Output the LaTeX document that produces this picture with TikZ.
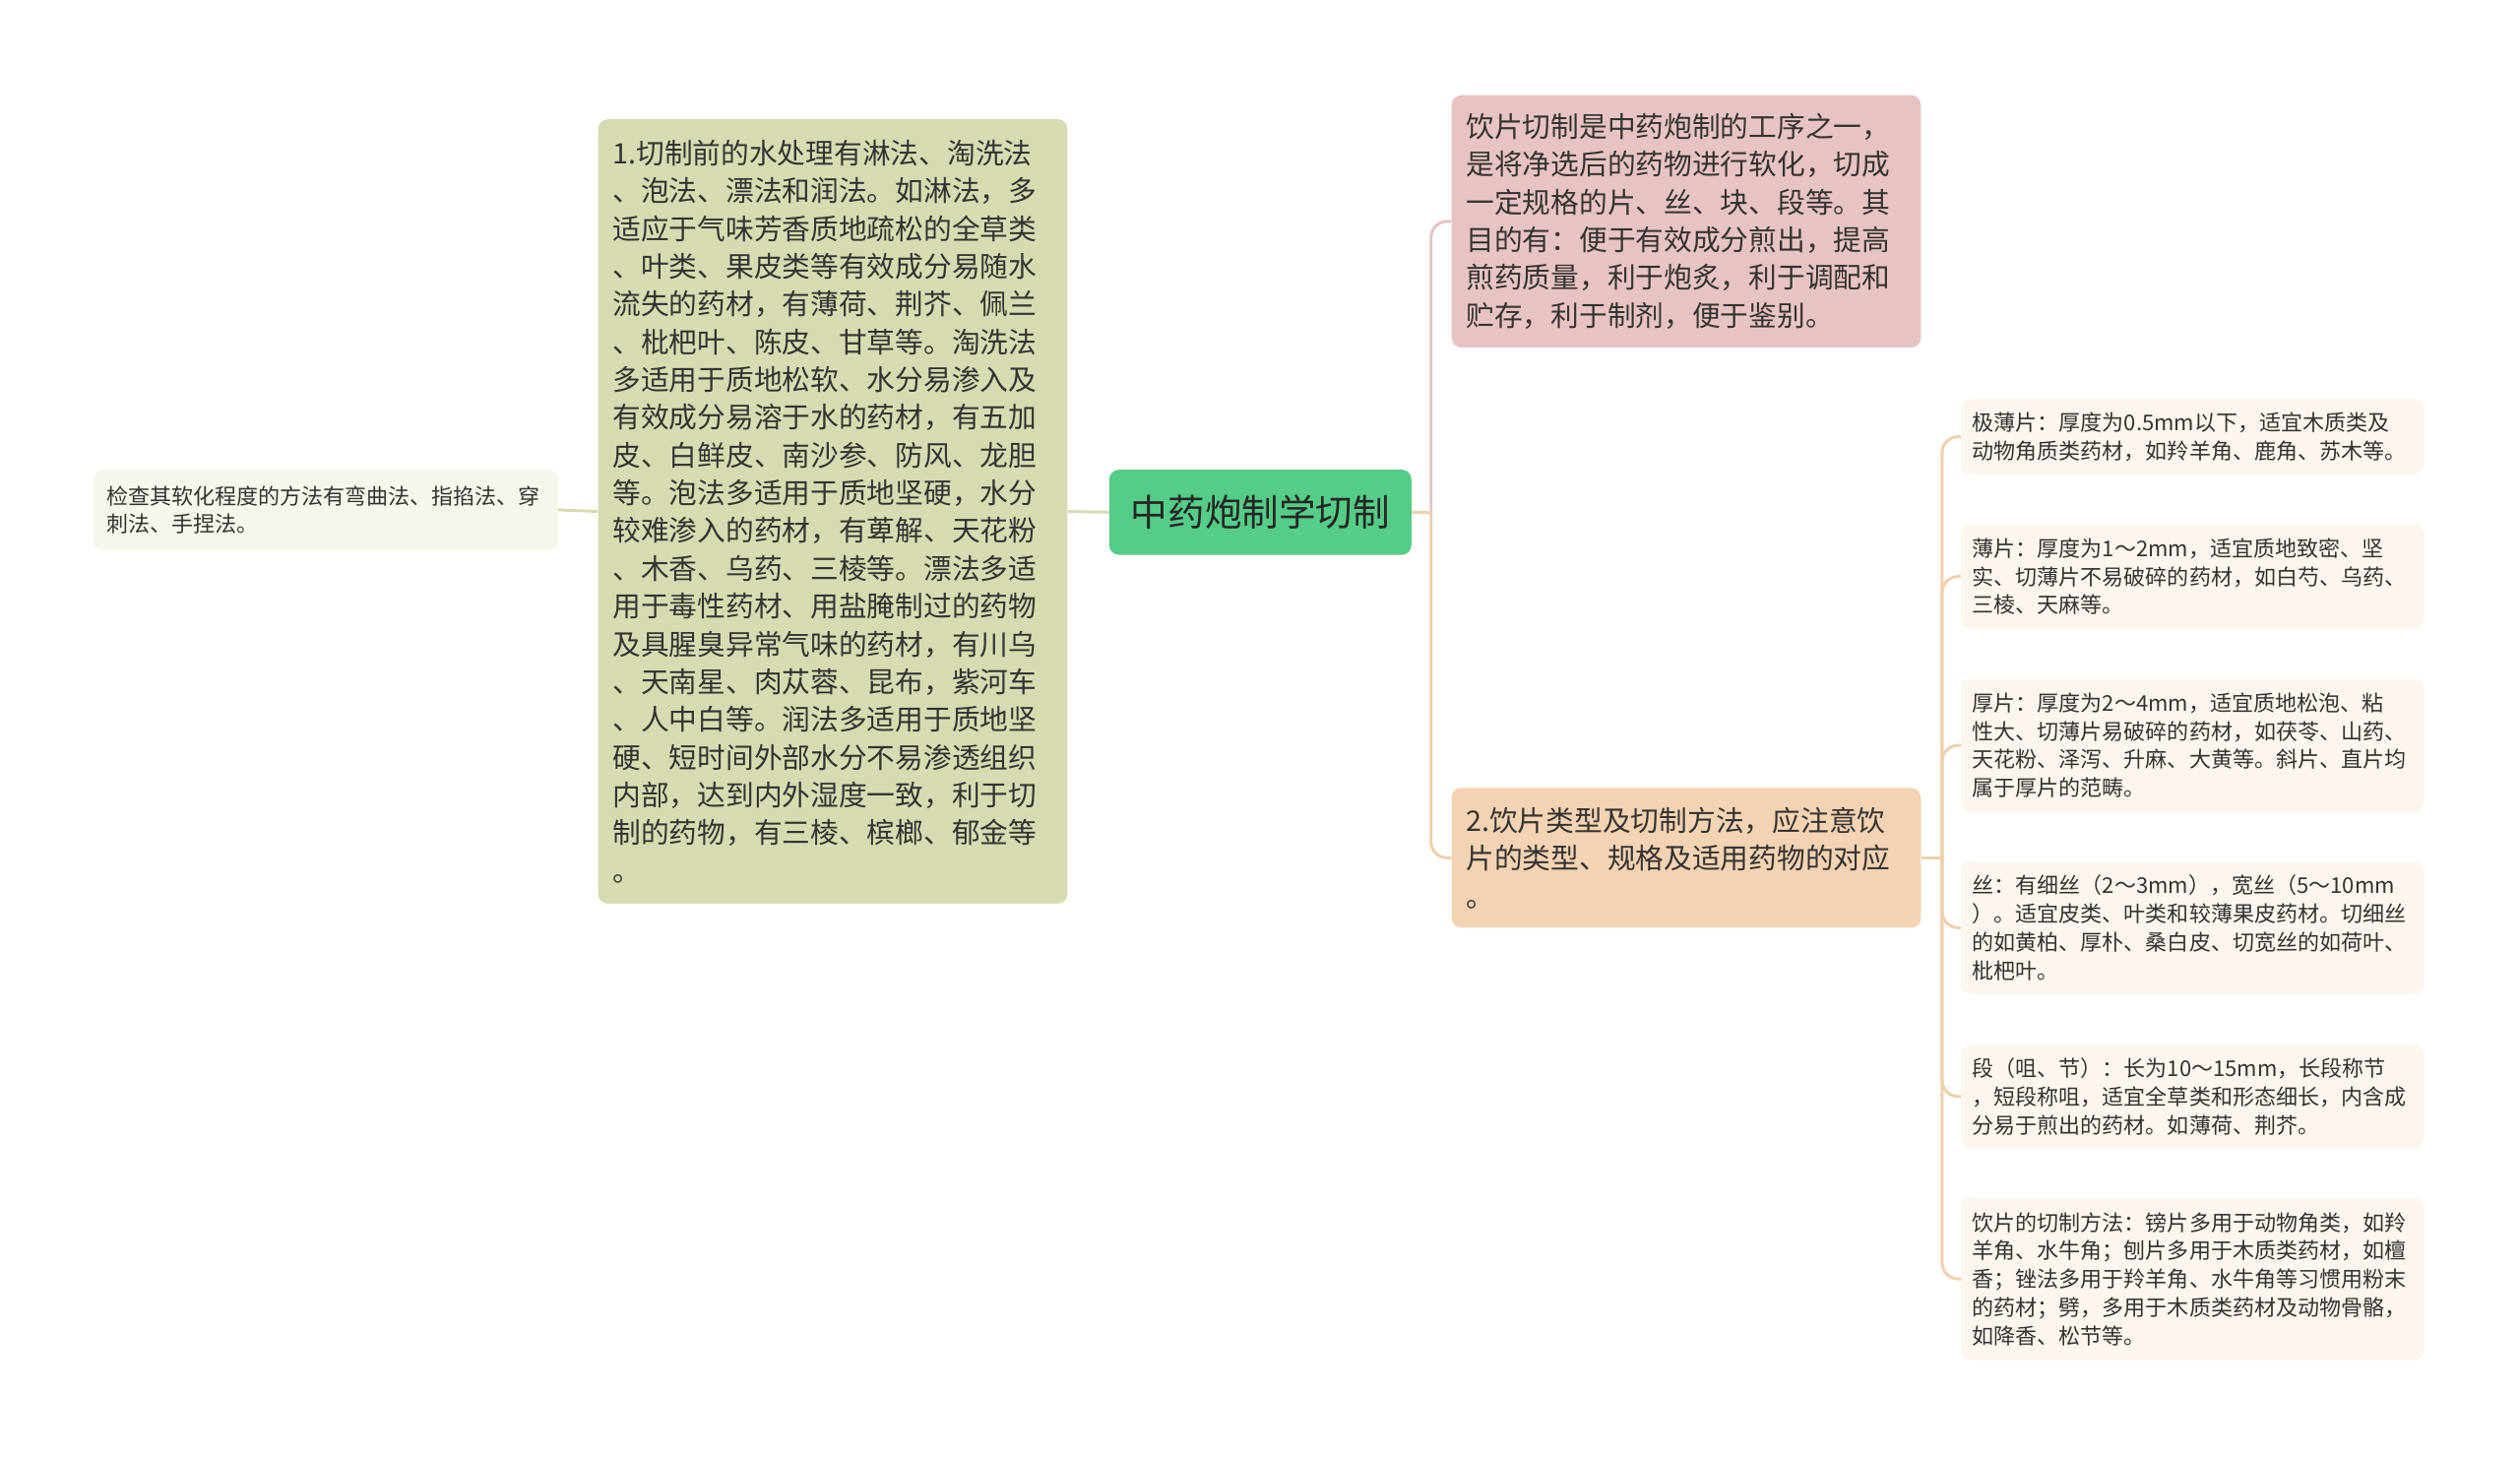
\documentclass[tikz,border=0pt]{standalone}
\usepackage{fontspec}
\newfontfamily\cjk{Noto Sans CJK SC}
\usetikzlibrary{positioning}
\definecolor{rootgreen}{HTML}{55CC88}
\definecolor{olivebox}{HTML}{D8DBB0}
\definecolor{pinkbox}{HTML}{E8C3C3}
\definecolor{peachbox}{HTML}{F3D3B1}
\definecolor{leafbox}{HTML}{FDF6EE}
\definecolor{leftleaf}{HTML}{F6F6EC}
\definecolor{txt}{HTML}{333333}
\definecolor{peachline}{HTML}{F0D0AA}
\definecolor{pinkline}{HTML}{E6C2C2}
\tikzset{
    box/.style={rounded corners=6pt, anchor=north west, inner ysep=0pt, align=left, text=txt},
    bigbox/.style={box, inner xsep=9pt, text width=274pt, font=\cjk\fontsize{17.6}{23.5}\selectfont},
    leaf/.style={box, fill=leafbox, inner xsep=7pt, text width=274pt, minimum width=288pt, font=\cjk\fontsize{13.5}{17.6}\selectfont},
    link/.style={line width=1.8pt}
}
\begin{document}
\begin{tikzpicture}[x=1pt,y=-1pt]
        %Frame
            \fill[white] (0,0) rectangle (1568,906);
            \useasboundingbox (0,0) rectangle (1568,906);
        %Root
            \node (root) [box, fill=rootgreen, text=black!85, inner xsep=0pt, minimum width=188pt, minimum height=53pt, align=center, font=\cjk\fontsize{23}{28}\selectfont] at (690,292) {中药炮制学切制};
        %Left branch
            \node (water) [bigbox, fill=olivebox, minimum height=488pt] at (372,74) {1.切制前的水处理有淋法、淘洗法\\、泡法、漂法和润法。如淋法，多\\适应于气味芳香质地疏松的全草类\\、叶类、果皮类等有效成分易随水\\流失的药材，有薄荷、荆芥、佩兰\\、枇杷叶、陈皮、甘草等。淘洗法\\多适用于质地松软、水分易渗入及\\有效成分易溶于水的药材，有五加\\皮、白鲜皮、南沙参、防风、龙胆\\等。泡法多适用于质地坚硬，水分\\较难渗入的药材，有萆解、天花粉\\、木香、乌药、三棱等。漂法多适\\用于毒性药材、用盐腌制过的药物\\及具腥臭异常气味的药材，有川乌\\、天南星、肉苁蓉、昆布，紫河车\\、人中白等。润法多适用于质地坚\\硬、短时间外部水分不易渗透组织\\内部，达到内外湿度一致，利于切\\制的药物，有三棱、槟榔、郁金等\\。};
            \node (check) [box, fill=leftleaf, inner xsep=8pt, text width=273pt, minimum height=50pt, font=\cjk\fontsize{13.5}{17.6}\selectfont] at (58,292) {检查其软化程度的方法有弯曲法、指掐法、穿\\刺法、手捏法。};
        %Right branch
            \node (aim) [bigbox, fill=pinkbox, minimum height=157pt] at (903,59) {饮片切制是中药炮制的工序之一，\\是将净选后的药物进行软化，切成\\一定规格的片、丝、块、段等。其\\目的有：便于有效成分煎出，提高\\煎药质量，利于炮炙，利于调配和\\贮存，利于制剂，便于鉴别。};
            \node (types) [bigbox, fill=peachbox, minimum height=87pt] at (903,490) {2.饮片类型及切制方法，应注意饮\\片的类型、规格及适用药物的对应\\。};
        %Leaves
            \node (xthin) [leaf, minimum height=47pt] at (1220,248) {极薄片：厚度为0.5mm以下，适宜木质类及\\动物角质类药材，如羚羊角、鹿角、苏木等。};
            \node (thin) [leaf, minimum height=65pt] at (1220,326) {薄片：厚度为1～2mm，适宜质地致密、坚\\实、切薄片不易破碎的药材，如白芍、乌药、\\三棱、天麻等。};
            \node (thick) [leaf, minimum height=83pt] at (1220,422) {厚片：厚度为2～4mm，适宜质地松泡、粘\\性大、切薄片易破碎的药材，如茯苓、山药、\\天花粉、泽泻、升麻、大黄等。斜片、直片均\\属于厚片的范畴。};
            \node (shred) [leaf, minimum height=82pt] at (1220,536) {丝：有细丝（2～3mm），宽丝（5～10mm\\）。适宜皮类、叶类和较薄果皮药材。切细丝\\的如黄柏、厚朴、桑白皮、切宽丝的如荷叶、\\枇杷叶。};
            \node (piece) [leaf, minimum height=64pt] at (1220,650) {段（咀、节）：长为10～15mm，长段称节\\，短段称咀，适宜全草类和形态细长，内含成\\分易于煎出的药材。如薄荷、荆芥。};
            \node (method) [leaf, minimum height=101pt] at (1220,745) {饮片的切制方法：镑片多用于动物角类，如羚\\羊角、水牛角；刨片多用于木质类药材，如檀\\香；锉法多用于羚羊角、水牛角等习惯用粉末\\的药材；劈，多用于木质类药材及动物骨骼，\\如降香、松节等。};
        %Connectors left
            \draw[link, olivebox] (root.west) -- (water.east);
            \draw[link, olivebox] (water.west) -- (check.east);
        %Connectors right
            \coordinate (rfork) at ([xshift=12pt]root.east);
            \draw[link, peachline] (root.east) -- (rfork);
            \draw[link, pinkline, rounded corners=10pt] (rfork) |- (aim.west);
            \draw[link, peachline, rounded corners=10pt] (rfork) |- (types.west);
        %Connectors leaves
            \coordinate (lfork) at ([xshift=13pt]types.east);
            \draw[link, peachline] (types.east) -- (lfork);
            \draw[link, peachline, rounded corners=10pt] (lfork) |- (xthin.west);
            \draw[link, peachline, rounded corners=10pt] (lfork) |- (thin.west);
            \draw[link, peachline, rounded corners=10pt] (lfork) |- (thick.west);
            \draw[link, peachline, rounded corners=10pt] (lfork) |- (shred.west);
            \draw[link, peachline, rounded corners=10pt] (lfork) |- (piece.west);
            \draw[link, peachline, rounded corners=10pt] (lfork) |- (method.west);
    \end{tikzpicture}
\end{document}
